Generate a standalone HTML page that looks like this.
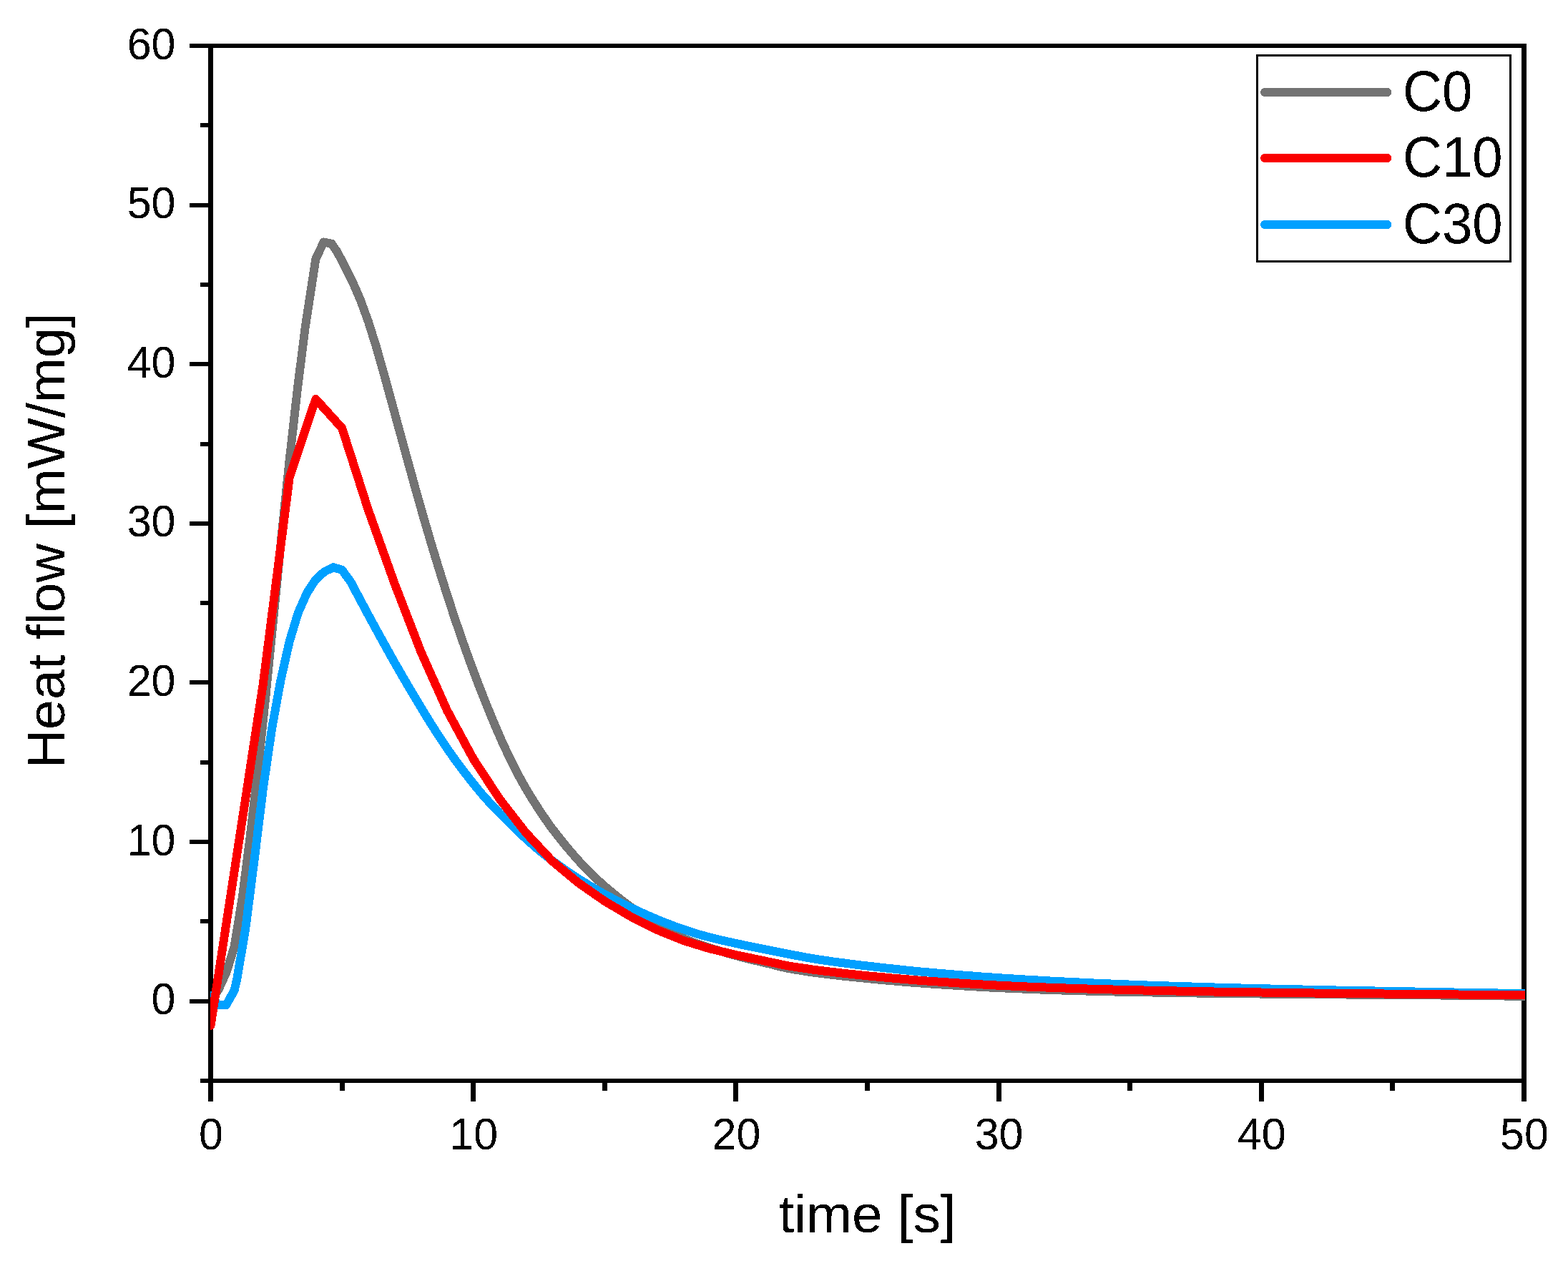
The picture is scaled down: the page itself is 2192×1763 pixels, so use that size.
<!DOCTYPE html>
<html lang="en"><head><meta charset="utf-8"><title>Heat flow vs time</title>
<style>
html,body{margin:0;padding:0;background:#fff;}
body{width:2192px;height:1763px;overflow:hidden;}
svg{display:block;}
text{font-family:"Liberation Sans",Arial,Helvetica,sans-serif;fill:#000;}
</style></head><body>
<svg xmlns="http://www.w3.org/2000/svg" width="2192" height="1763" viewBox="0 0 2192 1763">
<rect x="0" y="0" width="2192" height="1763" fill="#fff"/>
<g fill="#000" shape-rendering="crispEdges">
<rect x="291" y="61" width="7" height="1479"/>
<rect x="2127" y="61" width="7" height="1479"/>
<rect x="291" y="61" width="1843" height="6"/>
<rect x="291" y="1508" width="1843" height="6"/>
<rect x="265" y="61" width="27" height="6"/>
<rect x="265" y="284" width="27" height="6"/>
<rect x="265" y="506" width="27" height="6"/>
<rect x="265" y="729" width="27" height="6"/>
<rect x="265" y="951" width="27" height="6"/>
<rect x="265" y="1174" width="27" height="6"/>
<rect x="265" y="1397" width="27" height="6"/>
<rect x="280" y="172" width="12" height="6"/>
<rect x="280" y="395" width="12" height="6"/>
<rect x="280" y="618" width="12" height="6"/>
<rect x="280" y="840" width="12" height="6"/>
<rect x="280" y="1063" width="12" height="6"/>
<rect x="280" y="1285" width="12" height="6"/>
<rect x="280" y="1508" width="12" height="6"/>
<rect x="291" y="1510" width="7" height="30"/>
<rect x="658" y="1510" width="7" height="30"/>
<rect x="1025" y="1510" width="7" height="30"/>
<rect x="1393" y="1510" width="7" height="30"/>
<rect x="1760" y="1510" width="7" height="30"/>
<rect x="2127" y="1510" width="7" height="30"/>
<rect x="475" y="1510" width="7" height="15"/>
<rect x="842" y="1510" width="7" height="15"/>
<rect x="1209" y="1510" width="7" height="15"/>
<rect x="1576" y="1510" width="7" height="15"/>
<rect x="1943" y="1510" width="7" height="15"/>
</g>
<defs><filter id="crisp" x="-5%" y="-5%" width="110%" height="110%" color-interpolation-filters="sRGB"><feComponentTransfer><feFuncA type="discrete" tableValues="0 1"/></feComponentTransfer></filter></defs>
<defs><clipPath id="plotclip"><rect x="294" y="64" width="1838" height="1447"/></clipPath></defs>
<g clip-path="url(#plotclip)" fill="none" stroke-width="12" stroke-linejoin="round" stroke-linecap="round" shape-rendering="crispEdges">
<polyline stroke="#737373" points="294.5,1399.0 305.5,1383.5 316.5,1359.5 327.5,1323.8 338.6,1256.2 349.6,1170.6 360.6,1075.3 371.6,971.4 382.6,860.9 393.6,749.9 404.7,643.1 415.7,545.4 426.7,457.4 441.5,361.5 452.6,338.5 463.4,340.6 470.8,351.1 481.8,371.7 492.8,393.8 503.8,419.3 514.8,449.3 525.8,484.3 536.9,523.3 547.9,563.4 558.9,603.8 569.9,644.0 580.9,683.7 591.9,722.6 602.9,760.2 614.0,796.6 625.0,831.6 636.0,865.2 647.0,897.2 658.0,927.9 669.0,957.2 680.1,985.3 691.1,1012.1 702.1,1037.5 713.1,1060.9 724.1,1082.7 735.1,1102.4 746.2,1120.6 757.2,1137.5 768.2,1153.5 779.2,1168.0 790.2,1181.6 801.2,1194.6 812.3,1207.1 823.3,1218.5 834.3,1229.1 845.3,1239.1 856.3,1248.3 867.3,1257.1 878.3,1265.5 889.4,1273.5 900.4,1281.1 911.4,1288.3 922.4,1295.0 933.4,1301.2 944.4,1306.9 955.5,1312.0 966.5,1316.5 977.5,1320.5 988.5,1324.1 999.5,1327.5 1010.5,1330.8 1021.6,1334.1 1032.6,1337.1 1043.6,1339.9 1054.6,1342.6 1065.6,1345.2 1076.6,1347.8 1087.7,1350.7 1098.7,1353.3 1109.7,1355.3 1120.7,1357.1 1131.7,1358.8 1142.7,1360.3 1153.7,1361.7 1164.8,1363.0 1175.8,1364.3 1186.8,1365.5 1197.8,1366.6 1208.8,1367.7 1219.8,1368.8 1230.9,1369.8 1241.9,1370.8 1252.9,1371.7 1263.9,1372.7 1274.9,1373.6 1285.9,1374.4 1297.0,1375.2 1308.0,1376.0 1319.0,1376.7 1330.0,1377.4 1341.0,1378.1 1352.0,1378.7 1363.1,1379.4 1374.1,1380.0 1385.1,1380.6 1396.1,1381.1 1407.1,1381.6 1418.1,1382.1 1429.1,1382.5 1440.2,1383.0 1451.2,1383.4 1462.2,1383.8 1473.2,1384.2 1484.2,1384.5 1495.2,1384.9 1506.3,1385.2 1517.3,1385.5 1528.3,1385.8 1539.3,1386.1 1550.3,1386.3 1561.3,1386.6 1572.4,1386.8 1583.4,1387.0 1594.4,1387.2 1605.4,1387.4 1616.4,1387.6 1627.4,1387.8 1638.5,1388.0 1649.5,1388.2 1660.5,1388.3 1671.5,1388.5 1682.5,1388.6 1693.5,1388.8 1704.5,1388.9 1715.6,1389.0 1726.6,1389.2 1737.6,1389.3 1748.6,1389.4 1759.6,1389.5 1770.6,1389.6 1781.7,1389.7 1792.7,1389.8 1803.7,1389.9 1814.7,1390.0 1825.7,1390.1 1836.7,1390.2 1847.8,1390.3 1858.8,1390.3 1869.8,1390.4 1880.8,1390.5 1891.8,1390.6 1902.8,1390.7 1913.9,1390.8 1924.9,1390.8 1935.9,1390.9 1946.9,1391.0 1957.9,1391.1 1968.9,1391.2 1979.9,1391.3 1991.0,1391.3 2002.0,1391.4 2013.0,1391.5 2024.0,1391.7 2035.0,1391.8 2046.0,1391.9 2057.1,1392.0 2068.1,1392.1 2079.1,1392.2 2090.1,1392.4 2101.1,1392.5 2112.1,1392.6 2123.2,1392.8 2134.2,1392.9"/>
<polyline stroke="#00a0ff" points="294.5,1392.0 305.0,1405.0 316.2,1405.0 327.5,1385.0 331.5,1368.0 343.5,1296.3 355.7,1200.9 367.9,1101.9 380.2,1017.8 392.4,951.1 404.7,896.6 416.9,856.5 429.1,829.0 441.4,810.1 453.6,799.2 465.9,793.2 478.1,796.8 490.3,813.5 502.6,836.8 514.8,859.6 527.1,882.2 539.3,904.3 551.5,926.1 563.8,947.4 576.0,968.3 588.3,988.8 600.5,1008.7 612.7,1027.9 625.0,1046.3 637.2,1063.6 649.5,1079.9 661.7,1095.6 673.9,1110.4 686.2,1124.1 698.4,1136.9 710.7,1149.1 722.9,1160.9 735.1,1172.5 747.4,1183.5 759.6,1193.7 771.9,1203.1 784.1,1212.0 796.3,1220.5 808.6,1228.6 820.8,1236.1 833.1,1243.4 845.3,1250.3 857.5,1256.8 869.8,1263.1 882.0,1269.1 894.3,1274.8 906.5,1280.3 918.7,1285.5 931.0,1290.4 943.2,1295.1 955.5,1299.5 967.7,1303.5 979.9,1307.2 992.2,1310.5 1004.4,1313.5 1016.7,1316.3 1028.9,1319.0 1041.1,1321.6 1053.4,1324.1 1065.6,1326.6 1077.9,1329.0 1090.1,1331.5 1102.3,1333.9 1114.6,1336.2 1126.8,1338.5 1139.1,1340.6 1151.3,1342.5 1163.5,1344.3 1175.8,1345.9 1188.0,1347.5 1200.3,1349.1 1212.5,1350.5 1224.7,1351.9 1237.0,1353.3 1249.2,1354.6 1261.5,1355.9 1273.7,1357.2 1285.9,1358.4 1298.2,1359.5 1310.4,1360.6 1322.7,1361.6 1334.9,1362.6 1347.1,1363.6 1359.4,1364.5 1371.6,1365.5 1383.9,1366.3 1396.1,1367.2 1408.3,1368.0 1420.6,1368.7 1432.8,1369.5 1445.1,1370.2 1457.3,1370.9 1469.5,1371.6 1481.8,1372.2 1494.0,1372.8 1506.3,1373.4 1518.5,1374.0 1530.7,1374.6 1543.0,1375.1 1555.2,1375.6 1567.5,1376.1 1579.7,1376.6 1591.9,1377.0 1604.2,1377.5 1616.4,1377.9 1628.7,1378.3 1640.9,1378.8 1653.1,1379.1 1665.4,1379.5 1677.6,1379.9 1689.9,1380.3 1702.1,1380.6 1714.3,1381.0 1726.6,1381.3 1738.8,1381.6 1751.1,1381.9 1763.3,1382.2 1775.5,1382.5 1787.8,1382.8 1800.0,1383.1 1812.3,1383.3 1824.5,1383.6 1836.7,1383.9 1849.0,1384.1 1861.2,1384.4 1873.5,1384.6 1885.7,1384.8 1897.9,1385.1 1910.2,1385.3 1922.4,1385.5 1934.7,1385.7 1946.9,1386.0 1959.1,1386.2 1971.4,1386.4 1983.6,1386.6 1995.9,1386.8 2008.1,1387.0 2020.3,1387.2 2032.6,1387.5 2044.8,1387.7 2057.1,1387.9 2069.3,1388.1 2081.5,1388.3 2093.8,1388.5 2106.0,1388.8 2118.3,1389.0 2130.5,1389.2"/>
<polyline stroke="#fa0000" points="294.5,1433.8 331.2,1194.7 367.9,955.6 404.7,667.4 441.4,557.9 478.1,598.5 514.8,712.8 551.5,815.6 588.3,910.9 625.0,993.2 661.7,1061.0 698.4,1117.0 735.1,1164.2 771.9,1203.7 808.6,1234.3 845.3,1259.9 882.0,1281.6 918.7,1300.1 955.5,1315.0 992.2,1326.3 1028.9,1335.1 1065.6,1342.8 1102.3,1350.5 1139.1,1356.0 1175.8,1360.4 1212.5,1364.3 1249.2,1367.7 1285.9,1370.8 1322.7,1373.3 1359.4,1375.7 1396.1,1377.7 1432.8,1379.4 1469.5,1380.8 1506.3,1382.1 1543.0,1383.2 1579.7,1384.1 1616.4,1384.9 1653.1,1385.7 1689.9,1386.4 1726.6,1387.0 1763.3,1387.5 1800.0,1388.0 1836.7,1388.5 1873.5,1388.9 1910.2,1389.3 1946.9,1389.6 1983.6,1390.0 2020.3,1390.3 2057.1,1390.7 2093.8,1391.0 2130.5,1391.4"/>
</g>
<g filter="url(#crisp)">
<text transform="translate(245.50,82.60) scale(0.9770,1)" font-size="62.4px" text-anchor="end">60</text>
<text transform="translate(245.50,305.22) scale(0.9770,1)" font-size="62.4px" text-anchor="end">50</text>
<text transform="translate(245.50,527.83) scale(0.9770,1)" font-size="62.4px" text-anchor="end">40</text>
<text transform="translate(245.50,750.45) scale(0.9770,1)" font-size="62.4px" text-anchor="end">30</text>
<text transform="translate(245.50,973.06) scale(0.9770,1)" font-size="62.4px" text-anchor="end">20</text>
<text transform="translate(245.50,1195.68) scale(0.9770,1)" font-size="62.4px" text-anchor="end">10</text>
<text transform="translate(245.50,1418.29) scale(0.9770,1)" font-size="62.4px" text-anchor="end">0</text>
<text transform="translate(295.00,1606.70) scale(0.9770,1)" font-size="62.4px" text-anchor="middle">0</text>
<text transform="translate(662.20,1606.70) scale(0.9770,1)" font-size="62.4px" text-anchor="middle">10</text>
<text transform="translate(1029.40,1606.70) scale(0.9770,1)" font-size="62.4px" text-anchor="middle">20</text>
<text transform="translate(1396.60,1606.70) scale(0.9770,1)" font-size="62.4px" text-anchor="middle">30</text>
<text transform="translate(1763.80,1606.70) scale(0.9770,1)" font-size="62.4px" text-anchor="middle">40</text>
<text transform="translate(2131.00,1606.70) scale(0.9770,1)" font-size="62.4px" text-anchor="middle">50</text>
<text transform="translate(1212.40,1722.80) scale(1.0310,1)" font-size="74.5px" text-anchor="middle">time [s]</text>
<text transform="translate(90.20,756.00) rotate(-90) scale(1.0130,1)" font-size="74.5px" text-anchor="middle">Heat flow [mW/mg]</text>
</g>
<rect x="1757.5" y="77.5" width="354" height="288" fill="#fff" stroke="#000" stroke-width="3" shape-rendering="crispEdges"/>
<g fill="none" stroke-width="12" stroke-linecap="round" shape-rendering="crispEdges">
<line x1="1768.0" y1="129.0" x2="1939.2" y2="129.0" stroke="#737373"/>
<line x1="1768.0" y1="221.0" x2="1939.2" y2="221.0" stroke="#fa0000"/>
<line x1="1768.0" y1="314.0" x2="1939.2" y2="314.0" stroke="#00a0ff"/>
</g>
<g filter="url(#crisp)">
<text transform="translate(1960.90,155.40) scale(0.9670,1)" font-size="78.8px">C0</text>
<text transform="translate(1960.90,247.40) scale(0.9670,1)" font-size="78.8px">C10</text>
<text transform="translate(1960.90,340.40) scale(0.9670,1)" font-size="78.8px">C30</text>
</g>
</svg>
</body></html>
